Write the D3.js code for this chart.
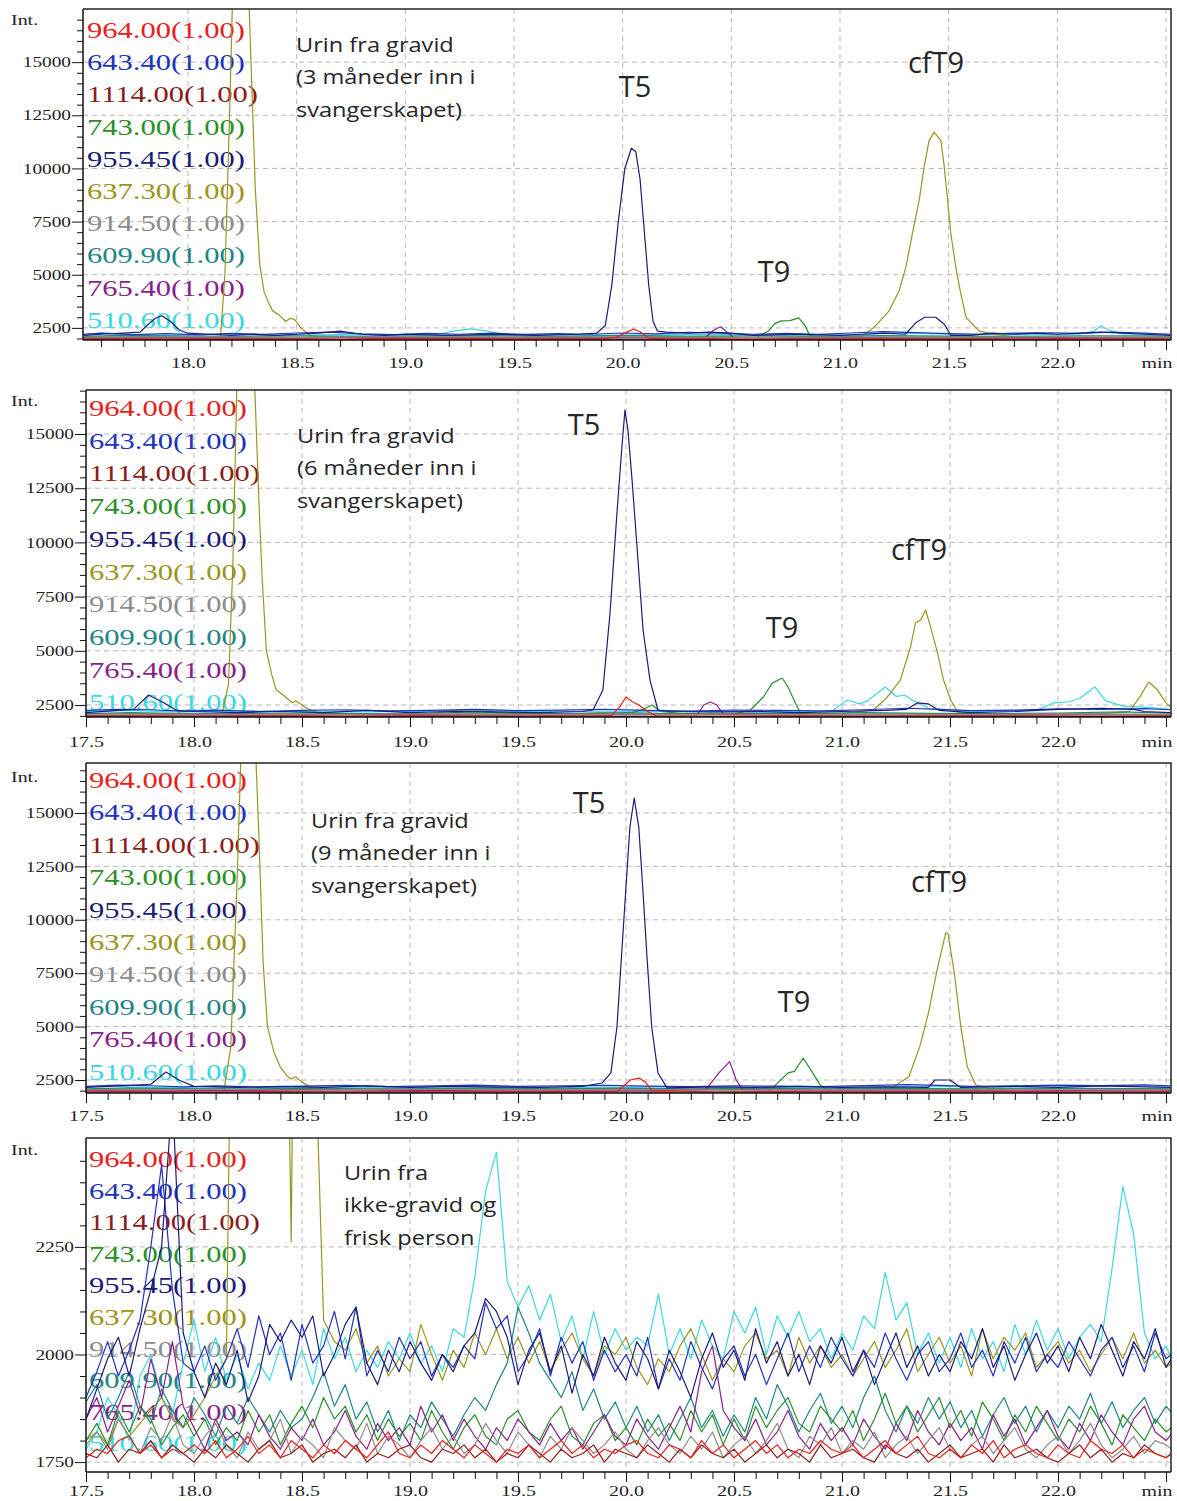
<!DOCTYPE html>
<html>
<head>
	<title>Kromatogram</title>
	<meta charset="UTF-8">
	<style>
		body { margin: 0; background: #fff; }
		.grid line { stroke: #b8b8b8; stroke-dasharray: 5,4; stroke-width: 1; }
		.trace { fill: none; stroke-width: 1.2; stroke-linejoin: round; }
		.axis path, .axis line { stroke: #111; }
		.note { font-family: "Open Sans", Lato, sans-serif; fill: #262626; }
	</style>
</head>
<body>
<script src="https://d3js.org/d3.v7.min.js"></script>
<script type="text/javascript">

'use strict';

// channel names (m/z) in legend order
var channels = ["964.00(1.00)", "643.40(1.00)", "1114.00(1.00)", "743.00(1.00)", "955.45(1.00)",
	"637.30(1.00)", "914.50(1.00)", "609.90(1.00)", "765.40(1.00)", "510.60(1.00)"];
var channelColors = ["#e8201c", "#2233bb", "#8b1c1c", "#2a8f2a", "#1c1c78",
	"#9c9420", "#8c8c8c", "#1f8585", "#8a1f8a", "#3ad8e0"];
// draw back to front
var drawOrder = [9, 5, 7, 3, 8, 6, 1, 4, 2, 0];

var peakNames = ["T5", "T9", "cfT9"];
var notes = [
	["Urin fra gravid", "(3 måneder inn i", "svangerskapet)"],
	["Urin fra gravid", "(6 måneder inn i", "svangerskapet)"],
	["Urin fra gravid", "(9 måneder inn i", "svangerskapet)"],
	["Urin fra", "ikke-gravid og", "frisk person"]
];

/* ---------- panel 1 : 3 months ---------- [min, intensity] */
var p1Red = [[17.52,1980],[17.7,1990],[17.9,1975],[18.1,1995],[18.3,1980],[18.5,1990],[18.7,1975],[18.9,1990],[19.1,1980],[19.3,1995],[19.5,1980],[19.7,1990],[19.9,1985],[19.97,2060],[20.02,2300],[20.05,2450],[20.08,2320],[20.12,2020],[20.2,1985],[20.4,1990],[20.6,1975],[20.8,1990],[21.0,1980],[21.2,1995],[21.4,1980],[21.6,1990],[21.8,1975],[22.0,1990],[22.2,1980],[22.4,1995],[22.52,1985]];
var p1Blue = [[17.52,2200],[17.6,2250],[17.75,2180],[17.9,2230],[18.05,2170],[18.2,2240],[18.35,2190],[18.5,2260],[18.65,2300],[18.8,2220],[18.95,2180],[19.1,2240],[19.25,2200],[19.4,2250],[19.55,2190],[19.7,2230],[19.85,2200],[20.0,2260],[20.15,2220],[20.3,2290],[20.45,2250],[20.6,2200],[20.75,2240],[20.9,2190],[21.05,2260],[21.2,2320],[21.35,2280],[21.5,2230],[21.65,2200],[21.8,2250],[21.95,2270],[22.1,2240],[22.25,2300],[22.4,2250],[22.52,2200]];
var p1DarkRed = [[17.52,1960],[17.8,1970],[18.1,1955],[18.4,1965],[18.7,1960],[19.0,1970],[19.3,1955],[19.6,1965],[19.9,1960],[20.2,1970],[20.5,1955],[20.8,1965],[21.1,1960],[21.4,1970],[21.7,1955],[22.0,1965],[22.3,1960],[22.52,1965]];
var p1Green = [[17.52,2050],[17.8,2080],[18.1,2040],[18.4,2070],[18.7,2050],[19.0,2060],[19.3,2040],[19.6,2070],[19.9,2050],[20.2,2080],[20.5,2050],[20.62,2070],[20.67,2350],[20.7,2700],[20.73,2830],[20.77,2840],[20.81,2970],[20.84,2600],[20.86,2150],[20.9,2060],[21.2,2050],[21.5,2070],[21.8,2050],[22.1,2060],[22.4,2040],[22.52,2050]];
var p1Navy = [[17.52,2150],[17.6,2200],[17.7,2250],[17.78,2300],[17.81,2600],[17.85,2950],[17.88,3070],[17.92,2800],[17.96,2400],[18.0,2250],[18.1,2200],[18.2,2150],[18.3,2200],[18.4,2150],[18.5,2200],[18.6,2250],[18.7,2350],[18.8,2200],[18.9,2150],[19.0,2200],[19.2,2150],[19.4,2200],[19.6,2150],[19.8,2200],[19.88,2250],[19.92,2600],[19.95,4500],[19.98,7500],[20.01,10000],[20.04,10950],[20.06,10800],[20.08,9500],[20.1,7000],[20.12,4500],[20.14,2800],[20.16,2350],[20.2,2300],[20.3,2250],[20.4,2300],[20.5,2250],[20.6,2150],[20.8,2200],[21.0,2150],[21.1,2200],[21.2,2250],[21.3,2200],[21.35,2750],[21.39,3000],[21.44,3000],[21.48,2670],[21.51,2150],[21.6,2150],[21.7,2250],[21.8,2200],[21.9,2250],[22.0,2200],[22.1,2250],[22.2,2300],[22.3,2250],[22.4,2200],[22.52,2150]];
var p1Olive = [[17.52,2050],[17.8,2070],[18.1,2060],[18.15,2100],[18.17,5000],[18.19,12000],[18.21,20000],[18.24,26000],[18.27,21000],[18.29,15000],[18.31,9000],[18.33,5500],[18.35,4200],[18.37,3700],[18.39,3300],[18.42,3100],[18.45,2800],[18.47,2950],[18.49,2900],[18.52,2500],[18.56,2150],[18.6,2080],[18.9,2060],[19.2,2080],[19.5,2050],[19.8,2070],[20.1,2060],[20.4,2080],[20.7,2050],[21.0,2070],[21.1,2100],[21.156,2515],[21.226,3300],[21.272,4245],[21.303,5345],[21.333,6930],[21.364,8490],[21.387,10060],[21.41,11320],[21.433,11710],[21.464,11320],[21.48,10060],[21.495,8490],[21.51,6930],[21.533,5345],[21.556,4100],[21.58,2990],[21.64,2360],[21.7,2220],[21.8,2080],[22.1,2060],[22.52,2070]];
var p1Gray = [[17.52,2060],[18.0,2080],[18.5,2050],[19.0,2090],[19.5,2060],[20.0,2080],[20.5,2050],[21.0,2070],[21.5,2060],[22.0,2080],[22.52,2060]];
var p1Teal = [[17.52,2100],[17.7,2150],[17.9,2120],[18.2,2100],[18.5,2130],[18.8,2100],[19.1,2120],[19.4,2140],[19.7,2100],[20.0,2150],[20.3,2110],[20.6,2130],[20.9,2100],[21.2,2140],[21.5,2110],[21.8,2100],[22.1,2130],[22.4,2120],[22.52,2110]];
var p1Purple = [[17.52,2020],[17.9,2040],[18.3,2020],[18.7,2050],[19.1,2020],[19.5,2040],[19.9,2030],[20.2,2040],[20.38,2050],[20.42,2400],[20.45,2550],[20.48,2300],[20.51,2050],[20.8,2030],[21.2,2040],[21.6,2020],[22.0,2040],[22.52,2030]];
var p1Cyan = [[17.52,2180],[17.6,2250],[17.7,2200],[17.9,2150],[18.1,2200],[18.4,2150],[18.7,2180],[19.0,2150],[19.15,2200],[19.22,2350],[19.3,2450],[19.38,2350],[19.45,2180],[19.7,2170],[20.0,2150],[20.3,2200],[20.6,2180],[20.9,2150],[21.1,2180],[21.25,2250],[21.5,2200],[21.8,2180],[22.1,2200],[22.17,2350],[22.2,2600],[22.24,2380],[22.3,2220],[22.52,2200]];

/* ---------- panel 2 : 6 months ---------- */
var p2Red = [[17.5,1990],[17.8,2000],[18.1,1985],[18.4,2000],[18.7,1990],[19.0,2000],[19.3,1985],[19.6,2000],[19.93,2000],[19.97,2400],[20.0,2870],[20.03,2650],[20.06,2500],[20.1,2200],[20.14,2000],[20.4,1990],[20.7,2000],[21.0,1985],[21.3,2000],[21.6,1990],[21.9,2000],[22.2,1985],[22.52,1995]];
var p2Blue = [[17.5,2250],[17.65,2300],[17.8,2280],[17.95,2220],[18.1,2260],[18.3,2200],[18.5,2250],[18.7,2280],[18.9,2230],[19.1,2250],[19.3,2300],[19.5,2240],[19.7,2260],[19.9,2300],[20.1,2250],[20.3,2220],[20.5,2270],[20.7,2250],[20.9,2230],[21.1,2280],[21.3,2350],[21.45,2300],[21.6,2240],[21.8,2260],[22.0,2320],[22.2,2300],[22.4,2330],[22.52,2280]];
var p2DarkRed = [[17.5,1970],[17.8,1980],[18.1,1965],[18.5,1975],[18.9,1965],[19.3,1980],[19.7,1970],[20.1,1980],[20.5,1965],[20.9,1975],[21.3,1970],[21.7,1980],[22.1,1965],[22.52,1975]];
var p2Green = [[17.5,2060],[17.8,2090],[18.1,2050],[18.5,2080],[18.9,2060],[19.3,2090],[19.7,2060],[20.0,2080],[20.08,2300],[20.12,2500],[20.16,2200],[20.3,2070],[20.5,2080],[20.575,2270],[20.636,2870],[20.677,3510],[20.723,3745],[20.75,3330],[20.784,2590],[20.807,2130],[21.0,2070],[21.4,2090],[21.8,2060],[22.2,2080],[22.52,2070]];
var p2Navy = [[17.5,2150],[17.65,2250],[17.72,2300],[17.79,2960],[17.86,2600],[17.92,2250],[18.0,2200],[18.2,2150],[18.4,2200],[18.6,2150],[18.8,2250],[19.0,2150],[19.2,2200],[19.4,2180],[19.6,2150],[19.8,2200],[19.847,2270],[19.893,3190],[19.926,6740],[19.958,11350],[19.981,14400],[19.995,16100],[20.009,15180],[20.028,12880],[20.051,9790],[20.079,5960],[20.111,3650],[20.148,2270],[20.2,2200],[20.4,2180],[20.6,2200],[20.8,2150],[21.0,2200],[21.2,2250],[21.3,2300],[21.35,2600],[21.4,2550],[21.45,2250],[21.6,2150],[21.8,2200],[22.0,2300],[22.2,2350],[22.35,2300],[22.4,2200],[22.52,2150]];
var p2Olive = [[17.5,2060],[17.8,2080],[18.1,2070],[18.13,2100],[18.16,3500],[18.18,9000],[18.2,18000],[18.25,24000],[18.28,17500],[18.3,12000],[18.316,8265],[18.335,5000],[18.36,3900],[18.38,3200],[18.42,2900],[18.455,2600],[18.47,2700],[18.5,2500],[18.52,2350],[18.58,2120],[18.8,2080],[19.1,2100],[19.2,2250],[19.3,2280],[19.4,2150],[19.7,2080],[19.9,2150],[20.0,2100],[20.3,2080],[20.6,2100],[20.9,2080],[21.0,2100],[21.146,2270],[21.21,2870],[21.27,3650],[21.317,5175],[21.34,6280],[21.364,6420],[21.387,6880],[21.41,6100],[21.442,4900],[21.47,3650],[21.503,2730],[21.535,2180],[21.7,2090],[22.0,2080],[22.2,2100],[22.33,2200],[22.38,2900],[22.42,3560],[22.46,3200],[22.5,2600],[22.52,2400]];
var p2Gray = [[17.5,2060],[18.0,2080],[18.5,2050],[19.0,2090],[19.5,2060],[20.0,2080],[20.5,2050],[21.0,2070],[21.5,2060],[22.0,2080],[22.52,2060]];
var p2Teal = [[17.5,2100],[17.7,2150],[17.9,2120],[18.2,2100],[18.5,2130],[18.8,2100],[19.1,2120],[19.3,2180],[19.5,2110],[19.8,2100],[20.0,2150],[20.2,2100],[20.5,2130],[20.8,2100],[21.1,2150],[21.4,2120],[21.7,2100],[22.0,2130],[22.3,2180],[22.52,2120]];
var p2Purple = [[17.5,2030],[17.9,2050],[18.3,2030],[18.7,2060],[19.1,2030],[19.5,2050],[19.9,2040],[20.2,2050],[20.33,2050],[20.36,2500],[20.39,2640],[20.42,2500],[20.45,2080],[20.8,2040],[21.2,2050],[21.6,2030],[22.0,2050],[22.52,2040]];
var p2Cyan = [[17.5,2200],[17.7,2250],[17.9,2180],[18.2,2220],[18.5,2200],[18.8,2180],[19.1,2220],[19.3,2260],[19.6,2200],[19.9,2180],[20.2,2220],[20.5,2200],[20.8,2180],[20.95,2200],[21.025,2730],[21.08,2550],[21.12,2700],[21.2,3330],[21.25,2900],[21.29,2950],[21.33,2700],[21.4,2350],[21.6,2200],[21.9,2250],[21.98,2600],[22.05,2650],[22.1,2800],[22.17,3330],[22.22,2700],[22.3,2450],[22.4,2400],[22.52,2300]];

/* ---------- panel 3 : 9 months ---------- */
var p3Red = [[17.5,1950],[17.8,1960],[18.1,1945],[18.4,1960],[18.7,1950],[19.0,1960],[19.3,1945],[19.6,1960],[19.96,1960],[20.02,2500],[20.06,2590],[20.09,2400],[20.12,2000],[20.4,1950],[20.7,1960],[21.0,1945],[21.3,1960],[21.6,1950],[21.9,1960],[22.2,1945],[22.52,1955]];
var p3Blue = [[17.5,2200],[17.65,2260],[17.8,2230],[17.95,2180],[18.1,2220],[18.3,2170],[18.5,2210],[18.7,2250],[18.9,2190],[19.1,2220],[19.3,2260],[19.5,2200],[19.7,2230],[19.9,2250],[20.1,2210],[20.3,2190],[20.5,2230],[20.7,2210],[20.9,2190],[21.1,2240],[21.3,2280],[21.45,2250],[21.6,2200],[21.8,2230],[22.0,2260],[22.2,2240],[22.4,2270],[22.52,2230]];
var p3DarkRed = [[17.5,1930],[17.8,1940],[18.1,1925],[18.5,1935],[18.9,1925],[19.3,1940],[19.7,1930],[20.1,1940],[20.5,1925],[20.9,1935],[21.3,1930],[21.7,1940],[22.1,1925],[22.52,1935]];
var p3Green = [[17.5,2040],[17.8,2070],[18.1,2030],[18.5,2060],[18.9,2040],[19.3,2070],[19.7,2040],[20.0,2060],[20.3,2040],[20.67,2050],[20.75,2830],[20.78,2900],[20.82,3530],[20.86,2900],[20.9,2250],[20.93,2050],[21.2,2050],[21.6,2070],[22.0,2040],[22.52,2060]];
var p3Navy = [[17.5,2150],[17.6,2200],[17.7,2250],[17.8,2300],[17.87,2870],[17.93,2500],[18.0,2200],[18.2,2150],[18.4,2200],[18.6,2150],[18.8,2220],[19.0,2150],[19.2,2200],[19.4,2170],[19.6,2150],[19.8,2200],[19.89,2360],[19.93,2830],[19.958,4980],[19.978,8120],[19.998,11250],[20.018,14340],[20.038,15700],[20.059,14340],[20.079,11250],[20.098,8120],[20.119,4980],[20.148,2830],[20.19,2130],[20.4,2180],[20.6,2150],[20.8,2200],[21.0,2150],[21.2,2180],[21.4,2150],[21.43,2500],[21.5,2500],[21.55,2150],[21.8,2200],[22.0,2150],[22.2,2220],[22.4,2180],[22.52,2150]];
var p3Olive = [[17.5,2050],[17.8,2070],[18.1,2060],[18.14,2100],[18.17,4000],[18.2,12000],[18.23,22000],[18.27,22000],[18.3,14000],[18.32,8000],[18.34,5000],[18.37,3800],[18.4,3100],[18.43,2700],[18.45,2550],[18.47,2650],[18.5,2400],[18.55,2100],[18.9,2070],[19.3,2060],[19.7,2080],[20.1,2060],[20.5,2070],[20.9,2060],[21.15,2060],[21.23,2125],[21.31,2660],[21.36,4060],[21.4,5630],[21.44,7650],[21.48,9380],[21.49,9380],[21.52,7510],[21.55,4990],[21.58,3110],[21.62,2265],[21.69,2080],[22.0,2060],[22.3,2080],[22.52,2060]];
var p3Gray = [[17.5,2040],[18.0,2060],[18.5,2030],[19.0,2070],[19.5,2040],[20.0,2060],[20.5,2030],[21.0,2050],[21.5,2040],[22.0,2060],[22.52,2040]];
var p3Teal = [[17.5,2080],[17.7,2130],[17.9,2100],[18.2,2080],[18.5,2110],[18.8,2080],[19.1,2100],[19.4,2130],[19.7,2080],[20.0,2120],[20.3,2090],[20.6,2110],[20.9,2080],[21.2,2120],[21.5,2090],[21.8,2080],[22.1,2110],[22.4,2100],[22.52,2090]];
var p3Purple = [[17.5,2010],[17.9,2030],[18.3,2010],[18.7,2040],[19.1,2010],[19.5,2030],[19.9,2020],[20.2,2030],[20.37,2050],[20.43,2830],[20.48,3360],[20.51,2500],[20.54,2050],[20.8,2020],[21.2,2030],[21.6,2010],[22.0,2030],[22.52,2020]];
var p3Cyan = [[17.5,2150],[17.6,2250],[17.7,2180],[17.9,2140],[18.1,2190],[18.4,2150],[18.7,2170],[19.0,2140],[19.3,2200],[19.6,2160],[19.9,2140],[20.2,2190],[20.5,2160],[20.8,2140],[21.1,2170],[21.4,2200],[21.7,2160],[22.0,2180],[22.3,2220],[22.52,2180]];

/* ---------- panel 4 : non-pregnant, sampled every 0.05 min from 17.50 ---------- */
var p4Start = 17.5, p4Step = 0.05;
var p4Red = [1760,1780,1770,1800,1810,1770,1790,1760,1780,1770,
	1790,1770,1800,1760,1780,1810,1770,1790,1760,1800,
	1780,1760,1790,1770,1800,1780,1760,1790,1820,1770,
	1760,1790,1770,1800,1780,1760,1790,1770,1750,1780,
	1770,1790,1760,1780,1800,1770,1790,1760,1780,1770,
	1790,1800,1770,1760,1790,1780,1760,1800,1770,1790,
	1760,1780,1800,1770,1790,1760,1780,1770,1800,1780,
	1770,1790,1760,1780,1800,1770,1790,1810,1770,1760,
	1780,1760,1790,1770,1800,1760,1780,1790,1770,1760,
	1790,1770,1760,1800,1780,1770,1790,1760,1780,1770,
	1760,1780];
var p4Blue = [1900,1960,2030,1950,2010,2080,2250,2440,2150,1980,
	1960,2020,1940,1990,2060,1970,2090,2000,2050,1940,
	2070,1980,2020,2100,1990,2110,1950,2010,1960,2040,
	1990,2030,1950,2000,1970,2020,1990,2120,2060,2090,
	1960,2000,2060,1950,2040,1980,2030,1940,2010,1960,
	2000,1950,2040,1920,1990,1940,2030,1970,1920,1990,
	2020,1950,2000,1930,1990,2050,1960,2020,1970,2040,
	1990,1950,2010,1970,2050,1990,1940,2000,2030,1960,
	1990,2050,1970,2010,1950,2030,1980,2040,1960,2000,
	1970,2030,1990,1950,2010,2040,1970,2020,1960,2050,
	1990,2010];
var p4DarkRed = [1770,1760,1790,1750,1780,1770,1800,1760,1790,1770,
	1750,1780,1760,1790,1770,1750,1780,1800,1760,1770,
	1790,1750,1770,1780,1760,1790,1750,1770,1760,1780,
	1790,1760,1750,1780,1770,1790,1760,1780,1750,1770,
	1760,1790,1770,1750,1780,1760,1770,1790,1750,1780,
	1770,1760,1790,1770,1750,1780,1760,1790,1770,1760,
	1780,1750,1770,1790,1760,1780,1770,1750,1790,1760,
	1770,1780,1760,1750,1790,1770,1760,1780,1750,1770,
	1790,1760,1770,1780,1750,1790,1760,1770,1780,1760,
	1750,1770,1790,1760,1780,1750,1770,1760,1790,1770,
	1760,1780];
var p4Green = [1800,1840,1790,1870,1820,1880,1850,1790,1830,1860,
	1810,1850,1790,1830,1800,1870,1820,1860,1790,1840,
	1880,1830,1900,1850,1880,1820,1860,1800,1850,1810,
	1840,1800,1870,1820,1780,1830,1860,1810,1790,1850,
	1870,1820,1800,1850,1880,1810,1790,1840,1860,1800,
	1830,1790,1850,1810,1840,1800,1870,1820,1860,1790,
	1850,1800,1880,1830,1870,1900,1840,1820,1880,1850,
	1820,1870,1800,1850,1910,1840,1880,1820,1860,1900,
	1830,1870,1810,1890,1850,1800,1860,1820,1880,1840,
	1800,1850,1820,1880,1840,1790,1860,1830,1800,1850,
	1820,1840];
var p4Navy = [1850,1920,1990,2040,1950,2060,2150,2250,2600,2050,
	1960,1900,1980,1930,2010,1890,1950,2070,2030,2080,
	2040,2090,1950,2000,2070,2110,1980,1930,2010,1960,
	2030,1980,1940,2000,1960,2020,2050,2130,2100,2040,
	1930,2010,2050,1960,2020,1910,2000,1950,2040,1980,
	1940,2030,1990,1920,2010,1960,1900,1990,2050,1970,
	2010,1940,2060,1980,2030,1950,2000,1930,2020,1980,
	2040,1960,2010,1930,1990,2050,1970,2020,1950,2000,
	1960,2030,1990,2060,1970,2020,1940,2000,2050,1980,
	2020,1960,2040,1990,2070,2010,1950,2030,1990,2060,
	1970,2010];
var p4Olive = [1800,1820,1790,1850,1810,1840,1870,1900,1850,1830,
	1860,1900,1950,1990,4000,5000,5000,5000,4000,2262,
	5000,2900,2080,2030,2010,2060,1980,2020,1950,1990,
	1960,2070,2000,1940,2010,1970,2050,2000,2060,1990,
	2040,1980,2030,1960,2010,2050,1990,1950,2020,2000,
	2040,1970,1930,1990,1960,2020,2060,2000,1940,1990,
	1960,2020,2050,1990,2010,1950,2040,1980,2020,1970,
	2000,1950,1990,2030,1970,2010,2060,1960,2000,2040,
	1980,2020,1950,2060,1990,2040,2010,2050,1970,2000,
	2030,1980,2010,1960,2000,2040,1990,2050,1980,2010,
	1970,1990];
var p4Gray = [1790,1820,1780,1850,1810,1770,1830,1800,1860,1790,
	1770,1810,1840,1790,1760,1820,1780,1800,1850,1770,
	1810,1790,1760,1830,1800,1780,1840,1770,1810,1790,
	1760,1800,1830,1780,1810,1770,1790,1840,1800,1770,
	1820,1790,1760,1810,1780,1830,1800,1770,1790,1820,
	1780,1760,1800,1830,1790,1770,1810,1780,1820,1760,
	1790,1810,1770,1800,1840,1780,1760,1810,1790,1830,
	1770,1800,1780,1820,1760,1790,1810,1770,1800,1830,
	1780,1760,1790,1810,1770,1800,1830,1780,1760,1790,
	1810,1770,1800,1840,1790,1760,1780,1810,1770,1800,
	1790,1770];
var p4Teal = [1890,1930,1850,1900,1960,1880,1840,1920,1870,1830,
	1900,1860,1810,1880,1840,1900,1860,1820,1870,1830,
	1850,1900,1960,1880,1930,1850,1890,1820,1870,1800,
	1860,1830,1890,1850,1810,1860,1900,1870,1930,1980,
	2110,2050,1980,1940,1900,1960,1870,1920,1850,1890,
	1830,1880,1820,1860,1800,1850,1900,1830,1870,1810,
	1860,1820,1900,1850,1930,1880,1820,1870,1910,1840,
	1880,1830,1900,1950,1870,1820,1880,1840,1900,1850,
	1890,1830,1870,1810,1860,1900,1840,1880,1820,1870,
	1830,1880,1850,1910,1840,1890,1830,1870,1900,1840,
	1880,1850];
var p4Purple = [1850,1900,1820,1880,1940,1860,1990,1900,2030,1880,
	1830,1780,1850,1800,1820,1790,1860,1810,1780,1830,
	1800,1850,1790,1820,1870,1810,1780,1840,1800,1830,
	1790,1880,1820,1860,1800,1850,1810,1780,1830,1800,
	1850,1820,1790,1840,1800,1830,1780,1820,1860,1810,
	1790,1850,1810,1780,1830,1880,1820,1960,2020,1870,
	1830,1800,1850,1790,1820,1870,1810,1780,1840,1800,
	1830,1790,1850,1810,1780,1840,1800,1870,1820,1790,
	1840,1800,1830,1780,1860,1810,1850,1790,1830,1870,
	1810,1780,1840,1800,1860,1820,1790,1850,1880,1820,
	1800,1830];
var p4Cyan = [1780,1820,1900,1860,1800,1950,2000,1900,1860,1980,
	2080,1960,2040,1940,2000,1920,1980,1940,2020,1950,
	2010,1930,2060,1990,2040,1960,2010,1970,2030,1990,
	2050,1980,2020,1960,2060,2040,2180,2380,2470,2170,
	2110,2160,2080,2140,2030,2090,1990,2100,2000,2060,
	2010,2040,2020,2140,2000,2060,1990,2080,2020,1990,
	2100,2050,2110,2000,2090,2040,2100,2030,2060,1990,
	2050,2010,2090,2060,2190,2080,2120,2000,2050,1980,
	2040,1970,2060,1990,2030,1960,2070,2000,2080,2010,
	2060,1990,2040,2070,2030,2200,2390,2280,2050,1990,
	2020,1960];

// sampled values -> [min, intensity]
function sampled(values) {
	return values.map(function(v, i){ return [p4Start + i * p4Step, v]; });
}

// series in legend order for each panel
var panelSeries = [
	[p1Red, p1Blue, p1DarkRed, p1Green, p1Navy, p1Olive, p1Gray, p1Teal, p1Purple, p1Cyan],
	[p2Red, p2Blue, p2DarkRed, p2Green, p2Navy, p2Olive, p2Gray, p2Teal, p2Purple, p2Cyan],
	[p3Red, p3Blue, p3DarkRed, p3Green, p3Navy, p3Olive, p3Gray, p3Teal, p3Purple, p3Cyan],
	[p4Red, p4Blue, p4DarkRed, p4Green, p4Navy, p4Olive, p4Gray, p4Teal, p4Purple, p4Cyan].map(sampled)
];

/* ---------- layout ---------- */
var W = 1177, H = 1501;
var plotRight = 1171, tMax = 22.523;
var stretch = 1.33; // the instrument fonts are drawn wide
var noteStretch = 1.15;
var panels = [
	{left: 83, top: 9, bottom: 340, tMin: 17.517, yMin: 1930, yMax: 17500, yMajor: 2500, yMinor: 500, labelDy: 28,
		legendX: 87, legendY: 38, legendStep: 32.2, intY: 25,
		noteX: 296, noteY: 52, peaks: [[635, 97], [774, 282], [936, 73]]},
	{left: 86, top: 390, bottom: 717, tMin: 17.5, yMin: 1946, yMax: 17030, yMajor: 2500, yMinor: 500, labelDy: 30,
		legendX: 89, legendY: 416, legendStep: 32.7, intY: 406,
		noteX: 297, noteY: 443, peaks: [[584, 435], [782, 638], [919, 560]]},
	{left: 86, top: 763, bottom: 1093, tMin: 17.5, yMin: 1891, yMax: 17340, yMajor: 2500, yMinor: 500, labelDy: 28,
		legendX: 89, legendY: 788, legendStep: 32.4, intY: 782,
		noteX: 311, noteY: 828, peaks: [[589, 813], [794, 1012], [939, 892]]},
	{left: 86, top: 1138, bottom: 1472, tMin: 17.5, yMin: 1727, yMax: 2503, yMajor: 250, yMinor: 50, labelDy: 24,
		legendX: 89, legendY: 1167, legendStep: 31.6, intY: 1155,
		noteX: 344, noteY: 1180, peaks: []}
];

var svg = d3.select("body").append("svg")
	.attr("width", W)
	.attr("height", H)
	.style("display", "block");

var fmtX = d3.format(".1f");
var serif = "'Liberation Serif', 'Times New Roman', serif";

panels.forEach(function(p, pi){
	var x = d3.scaleLinear().domain([p.tMin, tMax]).range([p.left, plotRight]);
	var y = d3.scaleLinear().domain([p.yMin, p.yMax]).range([p.bottom, p.top]);
	var g = svg.append("g");

	var xMajor = d3.range(35, 46).map(function(d){ return d / 2; }).filter(function(t){ return t >= p.tMin - 1e-6; });
	var xMinor = d3.range(175, 226).map(function(d){ return d / 10; })
		.filter(function(t){ return t >= p.tMin - 1e-6 && Math.abs(t * 2 - Math.round(t * 2)) > 1e-6; });
	var yMajor = d3.range(Math.ceil(p.yMin / p.yMajor) * p.yMajor, p.yMax, p.yMajor)
		.filter(function(v){ return y(v) > p.top + 4; });
	var yMinor = d3.range(Math.ceil(p.yMin / p.yMinor) * p.yMinor, p.yMax, p.yMinor)
		.filter(function(v){ return v % p.yMajor !== 0; });

	// dashed grid
	var grid = g.append("g").attr("class", "grid");
	grid.selectAll(".gx").data(xMajor.filter(function(t){ return x(t) > p.left + 2; }))
		.enter().append("line")
			.attr("x1", function(t){ return x(t); }).attr("x2", function(t){ return x(t); })
			.attr("y1", p.top).attr("y2", p.bottom);
	grid.selectAll(".gy").data(yMajor)
		.enter().append("line")
			.attr("x1", p.left).attr("x2", plotRight)
			.attr("y1", function(v){ return y(v); }).attr("y2", function(v){ return y(v); });

	// legend (drawn under the traces)
	g.append("g").selectAll("text")
		.data(channels)
		.enter().append("text")
			.attr("transform", function(d, i){
				return "translate(" + p.legendX + "," + (p.legendY + i * p.legendStep) + ") scale(" + stretch + ",1)";
			})
			.attr("font-family", serif)
			.attr("font-size", 23)
			.attr("fill", function(d, i){ return channelColors[i]; })
			.text(function(d){ return d; });

	// traces
	var clipId = "clip" + pi;
	svg.append("clipPath").attr("id", clipId)
		.append("rect")
			.attr("x", p.left).attr("y", p.top)
			.attr("width", plotRight - p.left).attr("height", p.bottom - p.top);

	var line = d3.line()
		.x(function(d){ return x(d[0]); })
		.y(function(d){ return y(d[1]); });

	g.append("g")
			.attr("clip-path", "url(#" + clipId + ")")
		.selectAll("path")
			.data(drawOrder)
		.enter().append("path")
			.attr("class", "trace")
			.attr("stroke", function(ci){ return channelColors[ci]; })
			.attr("d", function(ci){ return line(panelSeries[pi][ci]); });

	// axes
	var ax = g.append("g").attr("class", "axis")
		.attr("transform", "translate(0," + p.bottom + ")");
	ax.append("g")
		.call(d3.axisBottom(x).tickValues(xMinor).tickSize(7).tickFormat(""))
		.call(function(s){ s.select(".domain").remove(); });
	var axMaj = ax.append("g")
		.call(d3.axisBottom(x).tickValues(xMajor).tickSize(10).tickFormat(function(t){ return t === 22.5 ? "min" : fmtX(t); }));
	axMaj.select(".domain").attr("d", "M" + p.left + ",0H" + plotRight).attr("stroke-width", 1.5);
	axMaj.selectAll("text")
		.attr("font-family", serif)
		.attr("font-size", 15)
		.attr("fill", "#222")
		.attr("y", p.labelDy)
		.attr("dy", 0)
		.attr("transform", "scale(" + stretch + ",1)")
		.filter(function(t){ return t === 22.5; })
			.attr("text-anchor", "end")
			.attr("x", 6 / stretch);

	var ay = g.append("g").attr("class", "axis")
		.attr("transform", "translate(" + p.left + ",0)");
	ay.append("g")
		.call(d3.axisLeft(y).tickValues(yMinor).tickSize(6).tickFormat(""))
		.call(function(s){ s.select(".domain").remove(); });
	var ayMaj = ay.append("g")
		.call(d3.axisLeft(y).tickValues(yMajor).tickSize(11).tickFormat(d3.format("d")));
	ayMaj.select(".domain").attr("d", "M0," + p.top + "V" + p.bottom).attr("stroke-width", 1.5);
	ayMaj.selectAll("text")
		.attr("font-family", serif)
		.attr("font-size", 14.5)
		.attr("fill", "#222")
		.attr("x", -12 / stretch)
		.attr("dy", "0.32em")
		.attr("transform", "scale(" + stretch + ",1)");

	// frame top / right
	g.append("path")
		.attr("d", "M" + p.left + "," + p.top + "H" + plotRight + "V" + p.bottom)
		.attr("fill", "none")
		.attr("stroke", "#222")
		.attr("stroke-width", 1.5);

	g.append("text")
		.attr("transform", "translate(11," + p.intY + ") scale(" + stretch + ",1)")
		.attr("font-family", serif)
		.attr("font-size", 15)
		.attr("fill", "#222")
		.text("Int.");

	// annotations
	g.append("g").selectAll("text")
		.data(notes[pi])
		.enter().append("text")
			.attr("class", "note")
			.attr("transform", function(d, i){
				return "translate(" + p.noteX + "," + (p.noteY + i * 32.3) + ") scale(" + noteStretch + ",1)";
			})
			.attr("font-size", 20.5)
			.text(function(d){ return d; });

	g.append("g").selectAll("text")
		.data(p.peaks)
		.enter().append("text")
			.attr("class", "note")
			.attr("x", function(d){ return d[0]; })
			.attr("y", function(d){ return d[1]; })
			.attr("text-anchor", "middle")
			.attr("font-size", 29)
			.text(function(d, i){ return peakNames[i]; });
});

</script>
</body>
</html>
